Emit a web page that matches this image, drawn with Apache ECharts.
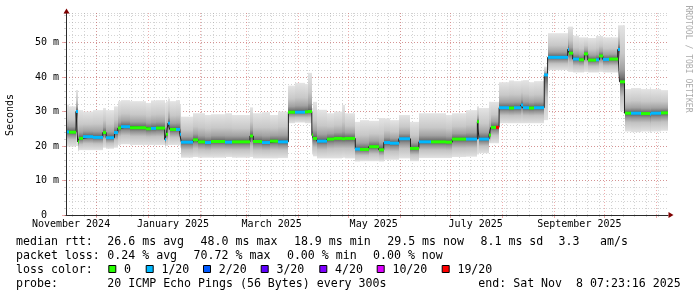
<!DOCTYPE html>
<html><head><meta charset="utf-8">
<script src="https://cdn.jsdelivr.net/npm/echarts@6/dist/echarts.min.js"></script>
<style>html,body{margin:0;padding:0;background:#fff}#c{width:697px;height:297px}</style>
</head><body><div id="c"></div>
<script>
// ---- data (step values, each holds until the next date) ----
const dates = [
'2024-11-13','2024-11-15','2024-11-19','2024-11-20','2024-11-21','2024-11-23','2024-11-29',
'2024-12-05','2024-12-07','2024-12-12','2024-12-14','2024-12-16','2024-12-21','2024-12-31',
'2025-01-03','2025-01-06','2025-01-11','2025-01-12','2025-01-13','2025-01-14','2025-01-18','2025-01-20','2025-01-21','2025-01-28','2025-01-31',
'2025-02-04','2025-02-08','2025-02-16','2025-02-20',
'2025-03-03','2025-03-05','2025-03-10','2025-03-15','2025-03-20','2025-03-26','2025-03-30',
'2025-04-05','2025-04-07','2025-04-09','2025-04-10','2025-04-12','2025-04-18','2025-04-22','2025-04-27','2025-04-29',
'2025-05-05','2025-05-08','2025-05-13','2025-05-19','2025-05-22','2025-05-26','2025-05-31',
'2025-06-07','2025-06-12','2025-06-19','2025-06-28',
'2025-07-02','2025-07-10','2025-07-17','2025-07-18','2025-07-24','2025-07-25','2025-07-28','2025-07-30',
'2025-08-05','2025-08-08','2025-08-12','2025-08-13','2025-08-17','2025-08-20','2025-08-26','2025-08-28',
'2025-09-03','2025-09-09','2025-09-10','2025-09-12','2025-09-16','2025-09-19','2025-09-21','2025-09-26','2025-09-28','2025-09-30',
'2025-10-04','2025-10-09','2025-10-10','2025-10-13','2025-10-17','2025-10-23','2025-10-28','2025-10-29',
'2025-11-04'
];
const median = [
24.1,24.0,30.0,21.2,22.2,22.7,22.5,
23.9,22.4,23.9,25.2,25.6,25.3,25.0,
25.1,25.2,21.9,23.4,26.6,24.8,24.8,23.4,21.1,21.8,21.2,
21.0,21.3,21.1,21.2,
22.9,21.3,21.0,21.4,21.2,29.8,29.8,
29.9,30.0,23.2,22.2,21.4,22.0,22.2,22.1,22.2,
19.1,19.0,19.8,18.9,21.0,20.8,22.1,
19.3,21.2,21.2,21.1,
22.0,22.0,27.0,22.0,23.2,25.4,25.4,31.1,
31.0,31.1,31.9,31.1,31.0,31.1,40.6,45.7,
45.7,48.0,46.9,45.2,45.0,46.7,44.9,45.0,46.1,45.1,
45.2,48.0,38.6,29.5,29.5,29.4,29.2,29.5,
29.6
];
const smokeMin = [
19.8,19.8,20.0,18.5,18.8,18.8,18.8,
19.5,19.2,19.5,20.3,20.5,20.3,20.3,
20.3,20.3,19.5,20.0,20.3,20.3,20.3,19.5,16.6,16.8,16.6,
16.6,16.6,16.8,16.6,
16.8,16.4,16.4,16.4,16.5,26.6,26.8,
26.6,26.6,17.5,17.0,16.4,16.4,16.4,16.6,16.4,
15.5,15.6,15.6,15.5,16.0,16.0,16.4,
15.6,16.5,16.5,16.5,
16.8,16.9,17.5,17.9,20.8,20.8,20.8,26.6,
26.6,26.6,26.6,26.6,26.6,26.6,27.5,42.0,
42.0,41.5,41.5,41.3,41.3,41.5,41.3,41.3,41.5,41.3,
41.3,42.0,30.0,24.2,24.0,24.2,23.8,24.2,
24.4
];
const smokeMax = [
32.0,31.5,36.2,30.5,30.4,30.0,30.4,
31.0,30.4,31.5,33.0,33.3,33.0,32.5,
33.2,33.3,32.5,33.0,33.8,33.0,33.3,32.0,28.5,29.5,29.5,
29.0,29.2,29.5,29.0,
31.2,29.5,29.8,29.0,30.0,37.5,38.3,
38.0,41.2,31.0,32.8,30.5,29.5,30.0,31.9,29.5,
27.0,27.5,27.3,28.1,28.0,27.5,29.0,
27.0,29.5,29.5,29.0,
29.5,30.4,31.5,31.0,32.8,32.8,32.8,38.5,
39.0,38.8,39.0,39.1,38.5,38.8,43.0,52.7,
52.7,54.6,54.6,52.0,51.5,51.5,51.3,51.9,51.9,51.5,
51.5,55.0,55.0,36.5,36.8,36.5,37.0,36.5,
36.2
];
const lossCount = [
1,0,1,0,0,1,1,
0,1,1,0,1,0,0,
1,0,1,0,1,0,1,1,1,0,0,
1,0,1,0,
0,0,1,0,1,0,1,
0,0,0,0,1,0,0,0,0,
1,0,0,0,1,1,1,
0,1,0,0,
0,1,0,1,0,0,19,1,
0,1,1,1,0,1,1,1,
1,1,0,1,0,0,0,1,0,1,
0,1,0,0,1,0,1,1,
0
];
const lossLevels = [0,1,2,3,4,10,19];
const lossLabels = ['0','1/20','2/20','3/20','4/20','10/20','19/20'];
const lossColors = ['#26ff00','#00b8ff','#0059ff','#5e00ff','#7e00ff','#dd00ff','#ff0000'];
const rttLine = ['median rtt:','26.6 ms avg','48.0 ms max','18.9 ms min','29.5 ms now','8.1 ms sd','3.3','am/s'];
const lossLine = ['packet loss:','0.24 % avg','70.72 % max','0.00 % min','0.00 % now'];
const probeLine = ['probe:','20 ICMP Echo Pings (56 Bytes) every 300s','end: Sat Nov  8 07:23:16 2025'];
const MONTHS = ['January','February','March','April','May','June','July','August','September','October','November','December'];

// ---- axis categories: one per day ----
const days = [];
for (let t = Date.UTC(2024,10,13); t <= Date.UTC(2025,10,8); t += 86400000) days.push(new Date(t).toISOString().slice(0,10));
const dayIdx = {}; days.forEach((d,i)=>dayIdx[d]=i);
function parts(v){ return {y:+v.slice(0,4), m:+v.slice(5,7)-1, d:+v.slice(8,10)}; }
function isSunday(i, v){ const p=parts(v); return new Date(Date.UTC(p.y,p.m,p.d)).getUTCDay()===0; }
function isMonthStart(i, v){ return parts(v).d===1; }
function isLabelDay(i, v){ const p=parts(v); return p.d===16 && p.m%2===0; }
function lossColor(n){ let c=lossColors[0]; for(let k=0;k<lossLevels.length;k++) if(n>=lossLevels[k]) c=lossColors[k]; return c; }

const last = days.length-1;
const segs = dates.map((d,i)=>[dayIdx[d], i+1<dates.length?dayIdx[dates[i+1]]:last, smokeMin[i], median[i], smokeMax[i], lossCount[i]]);
const medLine = dates.map((d,i)=>[dayIdx[d], median[i]]).concat([[last, median[median.length-1]]]);

const FONT = "'DejaVu Sans Mono', monospace";
const MINOR = 'rgba(140,140,140,0.38)';
const MAJOR = 'rgba(215,60,60,0.42)';

function renderSmoke(params, api){
  const i0=api.value(0), i1=api.value(1), lo=api.value(2), me=api.value(3), hi=api.value(4);
  const x0=Math.round(api.coord([i0,me])[0]), x1=Math.round(api.coord([i1,me])[0]);
  const yLo=api.coord([i0,lo])[1], yMe=api.coord([i0,me])[1], yHi=api.coord([i0,hi])[1];
  return {type:'group', children:[
    {type:'rect', shape:{x:x0,y:yHi,width:x1-x0,height:yMe-yHi}, style:{fill:new echarts.graphic.LinearGradient(0,1,0,0,[
      {offset:0,color:'#4e4e4e'},{offset:0.08,color:'#767676'},{offset:0.22,color:'#a2a2a2'},{offset:0.5,color:'#c8c8c8'},{offset:1,color:'#e4e4e4'}])}},
    {type:'rect', shape:{x:x0,y:yMe,width:x1-x0,height:yLo-yMe}, style:{fill:new echarts.graphic.LinearGradient(0,0,0,1,[
      {offset:0,color:'#565656'},{offset:0.2,color:'#8e8e8e'},{offset:0.5,color:'#c2c2c2'},{offset:1,color:'#e2e2e2'}])}}
  ]};
}
function renderMedian(params, api){
  const i0=api.value(0), i1=api.value(1), me=api.value(3), loss=api.value(5);
  const p=api.coord([i0,me]); const x0=Math.round(p[0]), x1=Math.round(api.coord([i1,me])[0]);
  return {type:'rect', shape:{x:x0,y:p[1]-1.5,width:x1-x0,height:3}, style:{fill:lossColor(loss)}};
}

const chart = echarts.init(document.getElementById('c'), null, {renderer:'canvas', width:697, height:297});

// ---- legend / text graphics ----
const G = [];
function T(s,x,y,size,extra){ G.push(Object.assign({type:'text', x:x, y:y, style:{text:s, font:size+'px '+FONT, fill:'#000', align:'left', verticalAlign:'middle'}, z:100}, extra||{})); }
const LS = 11.6;
const rttX = [16,107.3,200.6,293.9,387.2,480.5,558.5,600];
rttLine.forEach((s,i)=>T(s, rttX[i], 242, LS));
const lossX = [16,107.3,193.6,286.9,373];
lossLine.forEach((s,i)=>T(s, lossX[i], 256, LS));
T('loss color:', 16, 270, LS);
const boxX = [108.3,145.7,203,260.7,319.3,376.7,441.7];
lossLabels.forEach((s,i)=>{
  G.push({type:'rect', shape:{x:boxX[i]+0.5,y:265.5,width:7,height:7}, style:{fill:lossColors[i], stroke:'#000', lineWidth:1}, z:100});
  T(s, boxX[i]+15.7, 270, LS);
});
const probeX = [16,107.3,478.3];
probeLine.forEach((s,i)=>T(s, probeX[i], 284, LS));
G.push({type:'text', x:10, y:115, rotation:Math.PI/2, style:{text:'Seconds', font:'10px '+FONT, fill:'#000', align:'center', verticalAlign:'middle'}, z:100});
G.push({type:'text', x:688.5, y:59, rotation:-Math.PI/2, style:{text:'RRDTOOL / TOBI OETIKER', font:'8.1px '+FONT, fill:'#ababab', align:'center', verticalAlign:'middle'}, z:100});
G.push({type:'polygon', shape:{points:[[63.5,13.5],[69.5,13.5],[66.5,8.5]]}, style:{fill:'#7f0000'}, z:100});
G.push({type:'polygon', shape:{points:[[668.5,212],[668.5,218],[673.5,215]]}, style:{fill:'#7f0000'}, z:100});

const noAxisParts = {axisTick:{show:false}, axisLabel:{show:false}, splitLine:{show:false}};
chart.setOption({
  animation:false,
  backgroundColor:'#ffffff',
  grid:{left:66, right:29, top:13, bottom:82, containLabel:false, outerBoundsMode:'none'},
  xAxis:[
    {type:'category', data:days, boundaryGap:false, z:0,
     axisLine:{show:false},
     axisTick:{show:true, interval:isSunday, length:2, lineStyle:{color:MINOR}},
     axisLabel:{show:false},
     splitLine:{show:true, interval:isSunday, lineStyle:{color:MINOR, type:[1,2], width:1}}},
    {type:'category', data:days, boundaryGap:false, z:0.5, position:'bottom',
     axisLine:{show:false},
     axisTick:{show:true, interval:isMonthStart, length:3, lineStyle:{color:MAJOR}},
     axisLabel:{show:true, interval:isLabelDay, margin:4, color:'#000', fontFamily:FONT, fontSize:10,
       formatter:v=>{const p=parts(v); return MONTHS[p.m]+' '+p.y;}},
     splitLine:{show:true, interval:isMonthStart, lineStyle:{color:MAJOR, type:[1,2], width:1}}},
    Object.assign({type:'category', data:days, boundaryGap:false, z:10, position:'bottom',
     axisLine:{show:true, lineStyle:{color:'#2a2a2a', width:1}}}, noAxisParts)
  ],
  yAxis:[
    {type:'value', min:0, max:58.55, interval:10, position:'left', z:0.5,
     axisLine:{show:false},
     axisTick:{show:true, length:4, lineStyle:{color:MAJOR}},
     axisLabel:{margin:7, color:'#000', fontFamily:FONT, fontSize:10, showMaxLabel:false,
       formatter:v=> (v%10!==0)?'':(v===0?'0  ':(v+' m'))},
     splitLine:{show:true, showMaxLine:false, showMinLine:false, lineStyle:{color:MAJOR, type:[1,2], width:1}}},
    {type:'value', min:0, max:58.55, interval:2, position:'left', z:0,
     axisLine:{show:false}, axisLabel:{show:false},
     axisTick:{show:true, length:2, lineStyle:{color:MINOR}},
     splitLine:{show:true, showMinLine:false, lineStyle:{color:MINOR, type:[1,2], width:1}}},
    Object.assign({type:'value', min:0, max:58.55, position:'left', z:10,
     axisLine:{show:true, lineStyle:{color:'#2a2a2a', width:1}}}, noAxisParts)
  ],
  series:[
    {type:'custom', name:'smoke', xAxisIndex:0, yAxisIndex:0, z:2, data:segs, renderItem:renderSmoke, clip:true, silent:true},
    {type:'line', name:'median', xAxisIndex:0, yAxisIndex:0, z:4, data:medLine, step:'end', symbol:'none',
     lineStyle:{color:'#202020', width:1}, silent:true},
    {type:'custom', name:'loss', xAxisIndex:0, yAxisIndex:0, z:5, data:segs, renderItem:renderMedian, clip:true, silent:true}
  ],
  graphic:G
});
</script></body></html>
